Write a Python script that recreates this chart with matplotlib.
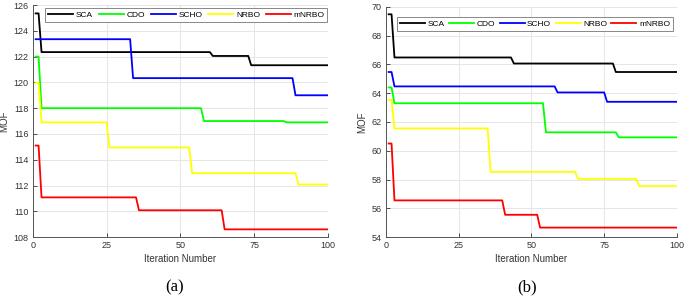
"""Convergence curves of five optimisers, two cases"""
import matplotlib.pyplot as plt

names = ["SCA", "CDO", "SCHO", "NRBO", "mNRBO"]
colors = ["#000000", "#00ff00", "#0000ff", "#ffff00", "#ff0000"]

# case (a): breakpoints of each step curve (iteration, MOF)
a_sca_x = [1, 2, 3, 60, 61, 73, 74, 100]
a_sca_y = [125.35, 125.35, 122.35, 122.35, 122.05, 122.05, 121.33, 121.33]
a_cdo_x = [1, 2, 3, 57, 58, 85, 86, 100]
a_cdo_y = [122.0, 122.0, 118.0, 118.0, 117.0, 117.0, 116.9, 116.9]
a_scho_x = [1, 33, 34, 88, 89, 100]
a_scho_y = [123.35, 123.35, 120.33, 120.33, 119.0, 119.0]
a_nrbo_x = [1, 2, 3, 25, 26, 53, 54, 89, 90, 100]
a_nrbo_y = [119.97, 119.97, 116.9, 116.9, 114.95, 114.95, 112.95, 112.95, 112.08, 112.08]
a_mnrbo_x = [1, 2, 3, 35, 36, 64, 65, 100]
a_mnrbo_y = [115.1, 115.1, 111.08, 111.08, 110.08, 110.08, 108.6, 108.6]

# case (b)
b_sca_x = [1, 2, 3, 43, 44, 78, 79, 100]
b_sca_y = [69.48, 69.48, 66.48, 66.48, 66.06, 66.06, 65.47, 65.47]
b_cdo_x = [1, 2, 3, 54, 55, 79, 80, 100]
b_cdo_y = [64.4, 64.4, 63.3, 63.3, 61.28, 61.28, 60.93, 60.93]
b_scho_x = [1, 2, 3, 58, 59, 75, 76, 100]
b_scho_y = [65.47, 65.47, 64.47, 64.47, 64.05, 64.05, 63.4, 63.4]
b_nrbo_x = [1, 2, 3, 35, 36, 65, 66, 86, 87, 100]
b_nrbo_y = [63.53, 63.53, 61.55, 61.55, 58.53, 58.53, 58.05, 58.05, 57.54, 57.54]
b_mnrbo_x = [1, 2, 3, 40, 41, 52, 53, 100]
b_mnrbo_y = [60.5, 60.5, 56.55, 56.55, 55.55, 55.55, 54.66, 54.66]

case_a = [(a_sca_x, a_sca_y), (a_cdo_x, a_cdo_y), (a_scho_x, a_scho_y),
          (a_nrbo_x, a_nrbo_y), (a_mnrbo_x, a_mnrbo_y)]
case_b = [(b_sca_x, b_sca_y), (b_cdo_x, b_cdo_y), (b_scho_x, b_scho_y),
          (b_nrbo_x, b_nrbo_y), (b_mnrbo_x, b_mnrbo_y)]

plt.rcParams['font.family'] = ['Liberation Sans', 'DejaVu Sans']

fig = plt.figure(figsize=(6.85, 2.96), dpi=100)
ax1 = fig.add_axes([0.0477, 0.199, 0.4311, 0.784])
ax2 = fig.add_axes([0.5631, 0.199, 0.4252, 0.778])


def draw(ax, curves, ylim, yticks, legend_box, ylab_x):
    for (x, y), name, c in zip(curves, names, colors):
        ax.plot(x, y, color=c, lw=1.3, label=name)
    ax.set_xlim(0, 100)
    ax.set_ylim(*ylim)
    ax.set_xticks([0, 25, 50, 75, 100])
    ax.set_yticks(yticks)
    ax.grid(True, color="#e6e6e6", lw=0.7)
    ax.set_axisbelow(True)
    for s in ["top", "right"]:
        ax.spines[s].set_visible(False)
    for s in ["left", "bottom"]:
        ax.spines[s].set_color("#555555")
        ax.spines[s].set_linewidth(0.7)
    ax.tick_params(direction="in", length=3, labelsize=6.5, colors="#333333",
                   width=0.6, pad=3)
    ax.set_xlabel("Iteration Number", fontsize=7, color="#333333", labelpad=3)
    ax.set_ylabel("MOF", fontsize=7, color="#333333")
    ax.yaxis.set_label_coords(ylab_x, 0.5)
    leg = ax.legend(ncol=5, loc="upper left", bbox_to_anchor=legend_box,
                    mode="expand", fontsize=6, handlelength=3.0,
                    handletextpad=0.3, columnspacing=0.6, borderpad=0.35,
                    fancybox=False, framealpha=1, borderaxespad=0)
    leg.get_frame().set_edgecolor("#888888")
    leg.get_frame().set_linewidth(0.7)


draw(ax1, case_a, (108, 126), range(108, 127, 2),
     (0.042, 0.987, 0.956, 0.0), -0.080)
draw(ax2, case_b, (54, 70), range(54, 71, 2),
     (0.039, 0.955, 0.947, 0.0), -0.064)

fig.text(0.255, 0.03, "(a)", family="Liberation Serif", fontsize=12,
         ha="center", va="center")
fig.text(0.769, 0.03, "(b)", family="Liberation Serif", fontsize=12,
         ha="center", va="center")

fig.savefig("out.png", dpi=100)
